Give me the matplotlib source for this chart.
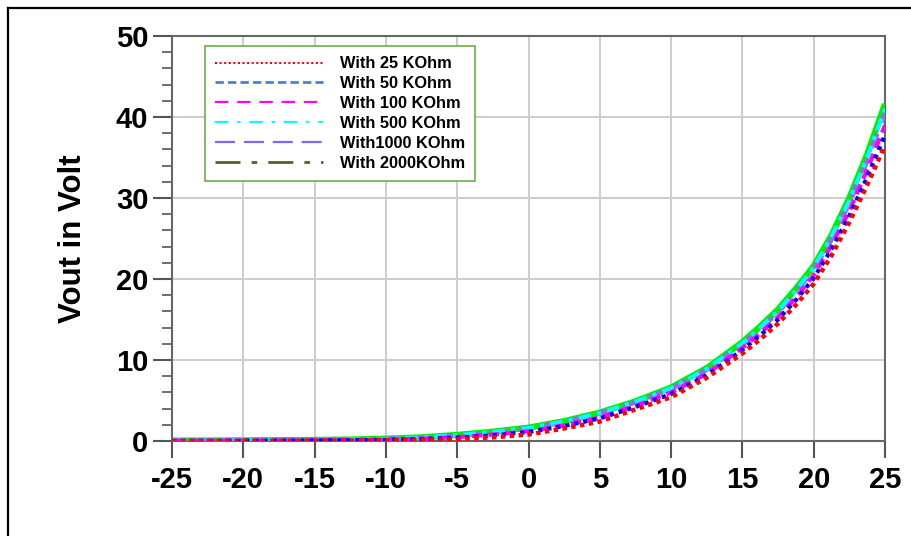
import matplotlib
matplotlib.use("Agg")
import matplotlib.pyplot as plt
from matplotlib.lines import Line2D
from matplotlib.ticker import MultipleLocator

# Input voltage sweep (x axis)
vin = [-25, -22.5, -20, -17.5, -15, -12.5, -10, -7.5, -5, -2.5, 0,
       2.5, 5, 7.5, 10, 12.5, 15, 16.25, 17.5, 18.75, 20, 21.25, 22.5, 23.75, 25]

# Output voltage for each load resistance
vout_25k = [0.0, 0.01, 0.01, 0.02, 0.03, 0.05, 0.08, 0.15, 0.25, 0.45, 0.8,
            1.55, 2.4, 3.9, 5.4, 7.8, 10.8, 12.55, 14.5, 16.8, 19.4, 22.9, 27.0, 31.6, 36.5]
vout_50k = [0.01, 0.02, 0.03, 0.04, 0.06, 0.09, 0.14, 0.24, 0.40, 0.70, 1.1,
            1.85, 2.8, 4.2, 5.8, 8.1, 11.25, 13.05, 15.0, 17.4, 20.1, 23.7, 27.8, 32.6, 37.8]
vout_100k = [0.02, 0.03, 0.04, 0.06, 0.08, 0.11, 0.17, 0.28, 0.48, 0.80, 1.2,
             1.95, 2.9, 4.35, 6.0, 8.3, 11.5, 13.3, 15.3, 17.7, 20.5, 24.2, 28.4, 33.5, 39.0]
vout_500k = [0.04, 0.05, 0.07, 0.09, 0.12, 0.16, 0.26, 0.43, 0.72, 1.12, 1.6,
             2.4, 3.45, 4.85, 6.5, 8.9, 12.05, 14.0, 16.05, 18.6, 21.4, 25.2, 29.7, 35.0, 41.0]
vout_1000k = [0.04, 0.05, 0.07, 0.09, 0.12, 0.16, 0.25, 0.42, 0.70, 1.10, 1.58,
              2.38, 3.4, 4.8, 6.45, 8.8, 11.95, 13.85, 15.9, 18.4, 21.2, 24.9, 29.4, 34.6, 40.5]
vout_2000k = [0.05, 0.06, 0.08, 0.10, 0.13, 0.18, 0.28, 0.45, 0.75, 1.15, 1.65,
              2.45, 3.5, 4.9, 6.6, 9.0, 12.2, 14.15, 16.25, 18.8, 21.6, 25.4, 30.0, 35.4, 41.6]

labels = ["With 25 KOhm", "With 50 KOhm", "With 100 KOhm",
          "With 500 KOhm", "With1000 KOhm", "With 2000KOhm"]

x_ticks = [-25, -20, -15, -10, -5, 0, 5, 10, 15, 20, 25]
y_ticks = [0, 10, 20, 30, 40, 50]

plt.rcParams['font.family'] = ['Liberation Sans', 'DejaVu Sans']
plt.rcParams['font.weight'] = 'bold'
plt.rcParams['axes.unicode_minus'] = False

fig = plt.figure(figsize=(9.11, 5.36), dpi=100)
ax = fig.add_axes([0.1888, 0.1772, 0.7827, 0.7556])

# curves (thick green at the back, the rest drawn over it)
ax.plot(vin, vout_2000k, color='#00ee00', lw=4.5, solid_capstyle='butt', zorder=3)
ax.plot(vin, vout_1000k, color='#8a70e8', lw=3.5, linestyle=(0, (3, 2.5)), zorder=4)
ax.plot(vin, vout_500k, color='#00ffff', lw=3, linestyle=(0, (3, 1.5, 1, 1.5)), zorder=4)
ax.plot(vin, vout_100k, color='#ff00ff', lw=3, linestyle=(0, (2.5, 1.5)), zorder=5)
ax.plot(vin, vout_50k, color='#0000ff', lw=3, linestyle=(0, (1, 1.2)), zorder=5)
ax.plot(vin, vout_25k, color='#ff0000', lw=3.2, linestyle=(0, (1, 1)), zorder=6)

ax.set_xlim(-25, 25)
ax.set_ylim(0, 50)
ax.set_xticks(x_ticks)
ax.set_yticks(y_ticks)
ax.yaxis.set_minor_locator(MultipleLocator(2))

ax.grid(True, which='major', color='#cccccc', lw=1.4, zorder=0)
ax.set_axisbelow(True)

for sp in ax.spines.values():
    sp.set_color('#666666')
    sp.set_linewidth(1.5)

ax.tick_params(axis='both', which='major', labelsize=21, color='#555555',
               width=1.5, direction='out')
ax.tick_params(axis='y', which='major', length=14, pad=3)
ax.tick_params(axis='x', which='major', length=12, pad=6)
ax.tick_params(axis='y', which='minor', length=7, width=1.2, color='#555555')
for lab in ax.get_xticklabels() + ax.get_yticklabels():
    lab.set_fontweight('bold')

ax.set_ylabel("Vout in Volt", fontsize=22.5, fontweight='bold', labelpad=20)

# legend entries
handles = [
    Line2D([], [], color='#ff0000', lw=1.5, linestyle=(0, (1, 1.2))),
    Line2D([], [], color='#4f7fd0', lw=2, linestyle=(0, (3, 1.5))),
    Line2D([], [], color='#ff00ff', lw=1.6, linestyle=(0, (6, 4))),
    Line2D([], [], color='#00ffff', lw=1.6, linestyle=(0, (6, 4, 1.5, 4))),
    Line2D([], [], color='#7b68ee', lw=1.6, linestyle=(0, (9, 4))),
    Line2D([], [], color='#4f6228', lw=2, linestyle=(0, (9, 4, 2, 4))),
]
leg = ax.legend(handles, labels, loc='upper left', bbox_to_anchor=(0.046, 0.975),
                prop={'weight': 'bold', 'size': 11.8},
                handlelength=6.6, handletextpad=1.0, labelspacing=0.3,
                borderpad=0.62, fancybox=False, framealpha=1, borderaxespad=0)
leg.get_frame().set_edgecolor('#70ad47')
leg.get_frame().set_linewidth(1.2)
leg.set_zorder(10)

# outer frame
fig.add_artist(Line2D([7.5 / 911, 7.5 / 911], [0, 1 - 8 / 536],
                      transform=fig.transFigure, color='black', lw=1.6))
fig.add_artist(Line2D([7.5 / 911, 1], [1 - 8 / 536, 1 - 8 / 536],
                      transform=fig.transFigure, color='black', lw=1.6))

fig.savefig("out.png", dpi=100)
